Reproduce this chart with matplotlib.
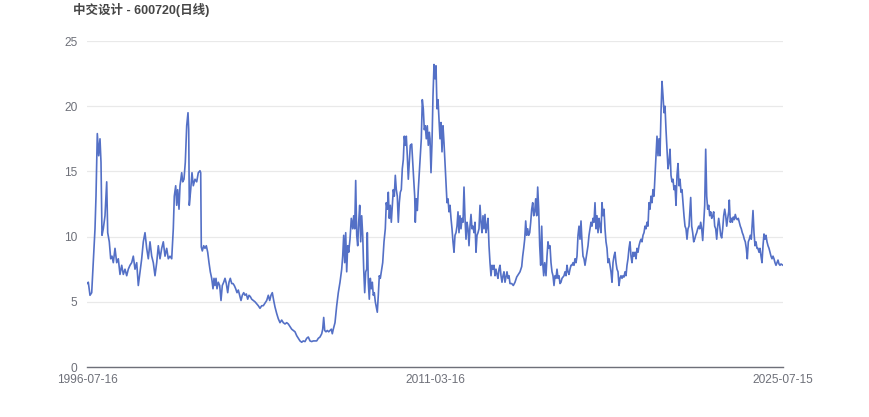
import matplotlib
matplotlib.use("Agg")
import matplotlib.pyplot as plt

title = "中交设计 - 600720(日线)"
tick_labels = ["1996-07-16", "2011-03-16", "2025-07-15"]
tick_days = [0, 3480, 6960]
y_ticks = [0, 5, 10, 15, 20, 25]

# trading-day index and closing price
days_1996 = [0,13,30,47,63,80,90,103,117,130,140,150,163,180,197,207,223,237,250,263,
             280,297,313,330,347,363,380,397,413,430,447,463,480,497,513,530,547,563,580,597,
             613,630,647,663,680,697,713,730,747,763,780,797,813,830,847,863,873,887,897,907,
             920,930,947,957,970,983,997,1010,1017,1023,1037,1050,1063,1080,1097,1113]
price_1996 = [6.4,6.5,5.5,5.7,8.0,10.6,13.1,17.9,16.2,17.5,15.7,10.1,10.6,11.6,14.2,10.3,9.6,8.3,8.5,8.0,
              9.1,8.0,8.3,7.1,7.8,7.1,7.5,7.0,7.5,7.8,8.0,8.5,7.5,8.0,6.25,7.3,8.3,9.6,10.3,9.1,
              8.3,9.6,8.5,8.0,7.0,8.0,9.3,8.3,9.1,9.6,8.5,9.1,8.3,8.5,8.3,10.6,13.1,13.9,12.4,13.6,
              12.1,13.9,14.9,14.2,14.4,15.7,18.5,19.5,18.2,12.4,13.6,14.9,13.9,14.4,14.2,14.9]

days_2001 = [1130,1137,1143,1153,1167,1180,1193,1207,1220,1233,1247,1260,1270,1280,1290,1300,1313,1327,1340,1353,
             1367,1380,1393,1407,1420,1433,1447,1460,1473,1487,1500,1513,1527,1540,1553,1567,1580,1593,1607,1620,
             1633,1647,1663,1680,1697,1713,1730,1747,1763,1780,1797,1813,1827,1840,1853,1867,1880,1897,1913,1930,
             1947,1963,1980,1997,2013,2030,2047,2063,2080,2097,2113,2130,2147,2163,2180,2197,2213,2230,2247,2263]
price_2001 = [15.05,14.9,9.2,8.9,9.3,9.1,9.3,8.8,8.0,7.3,6.8,6.0,6.8,6.25,6.8,6.0,6.5,6.25,5.1,6.25,
              6.5,6.8,6.4,5.7,6.5,6.8,6.4,6.4,6.25,6.0,5.7,5.9,5.5,5.1,5.5,5.7,5.5,5.6,5.2,5.5,
              5.4,5.2,5.1,5.0,4.85,4.7,4.5,4.7,4.7,4.9,5.1,5.5,5.1,5.5,5.7,5.1,4.6,4.1,3.7,3.4,
              3.6,3.4,3.3,3.4,3.3,3.1,2.9,2.8,2.7,2.4,2.2,2.0,1.9,2.0,1.95,2.2,2.3,2.0,1.95,2.0]

days_2006 = [2280,2297,2313,2330,2347,2357,2367,2377,2390,2403,2417,2430,2443,2453,2463,2480,2497,2513,2530,2547,
             2557,2567,2577,2587,2597,2607,2617,2630,2643,2657,2667,2677,2687,2697,2707,2717,2727,2737,2747,2757,
             2767,2777,2787,2797,2803,2813,2823,2833,2843,2853,2863,2873,2883,2893,2903,2913,2923,2933,2943,2957,
             2970,2983,2993,3003,3013,3023,3033,3043,3053,3063,3073,3083,3093,3103,3113,3123,3133,3143,3153,3163,
             3173,3183,3193,3203,3213,3223,3233,3247,3257,3267,3277,3283,3293,3303,3313,3323,3333,3343,3353,3363,
             3373,3383,3393,3403,3413,3423]
price_2006 = [2.0,2.0,2.2,2.3,2.55,2.9,3.8,2.8,2.7,2.8,2.7,2.8,2.9,2.55,2.9,3.4,4.7,5.7,6.5,7.5,
              8.5,10.1,8.0,10.3,7.3,9.3,8.8,9.8,11.4,10.6,11.6,10.6,14.3,10.1,9.3,11.1,12.4,9.6,11.6,10.1,
              7.5,5.7,7.3,7.5,10.3,6.5,5.2,6.8,6.0,6.5,5.5,5.7,5.0,4.6,4.2,5.5,7.0,6.8,7.3,8.0,
              9.6,10.6,12.6,12.1,13.4,11.4,12.4,11.1,12.4,13.6,13.1,14.7,13.6,13.1,11.1,12.6,13.4,13.6,15.2,15.9,
              17.7,17.0,17.7,16.2,14.4,15.7,17.0,17.1,15.7,14.4,13.1,11.1,12.9,12.0,13.6,14.9,16.2,17.5,20.5,19.8,
              18.2,18.5,17.5,18.5,17.0,18.0]

days_2011 = [3430,3440,3450,3460,3470,3480,3490,3500,3510,3520,3530,3540,3550,3560,3570,3580,3590,3600,3610,3620,
             3630,3640,3650,3660,3670,3680,3690,3700,3710,3720,3730,3740,3750,3760,3770,3780,3790,3800,3810,3820,
             3830,3840,3850,3860,3870,3880,3890,3900,3910,3920,3930,3940,3950,3960,3970,3980,3990,4000,4010,4020,
             4030,4040,4050,4060,4070,4080,4090,4100,4110,4120,4130,4140,4150,4160,4170,4180,4190,4200,4210,4220,
             4230,4247,4263,4280,4297,4313,4330,4347,4357,4367,4377,4387,4397,4407,4417,4427,4437,4447,4457,4467,
             4477,4487,4497,4507,4517,4527,4537,4547,4557,4567,4577]
price_2011 = [17.5,14.9,17.2,20.8,23.2,22.1,23.1,19.8,20.5,19.0,17.5,18.75,16.5,18.5,17.2,15.7,14.2,12.6,12.9,11.9,
              12.4,11.4,10.6,9.6,8.8,10.1,10.3,10.8,11.9,10.3,11.6,10.6,11.4,11.1,13.8,11.4,9.8,11.1,10.6,9.3,
              10.8,11.7,10.6,10.8,10.3,11.1,8.8,10.1,10.3,10.6,12.4,11.1,10.3,11.6,10.6,11.7,10.3,10.8,11.4,9.3,
              8.0,7.0,7.8,7.5,7.8,7.0,7.5,7.1,6.8,7.5,7.8,7.0,6.5,7.0,7.3,6.5,6.9,7.3,6.8,7.0,
              6.4,6.4,6.25,6.5,6.9,7.1,7.3,7.7,8.5,9.1,9.8,11.2,10.1,10.6,10.1,10.3,11.1,12.1,12.6,11.6,
              11.9,12.9,11.6,13.8,12.1,9.3,7.8,10.8,8.0,7.0,8.0]

days_2016 = [4590,4600,4610,4620,4630,4640,4650,4660,4670,4680,4690,4700,4710,4720,4730,4740,4750,4760,4770,4780,
             4790,4800,4810,4820,4830,4840,4850,4860,4870,4880,4890,4900,4910,4920,4930,4940,4950,4960,4970,4980,
             4990,5000,5010,5020,5030,5040,5050,5060,5070,5080,5090,5100,5110,5120,5130,5140,5150,5160,5170,5180,
             5190,5200,5210,5220,5230,5240,5250,5260,5270,5280,5290,5300,5310,5320,5330,5340,5350,5360,5370,5380,
             5390,5400,5410,5420,5430,5440,5450,5460,5470,5480,5490,5500,5510,5520,5530,5540,5550,5560,5570,5580,
             5590,5600,5610,5620,5630,5640,5650,5660,5670,5680,5690,5700,5710,5720]
price_2016 = [7.0,8.5,9.6,9.1,9.3,8.0,7.3,7.0,6.25,7.0,6.8,7.5,6.8,7.0,6.4,6.5,6.8,6.9,7.0,7.3,
              7.0,7.8,7.3,7.1,7.5,7.8,7.8,8.0,7.8,8.3,8.0,8.5,10.1,10.8,9.8,11.2,9.6,8.5,8.3,7.8,
              8.3,8.8,9.3,10.1,10.6,11.1,10.8,11.4,11.1,12.6,10.6,11.6,10.3,11.4,10.8,10.3,12.6,11.6,12.1,10.6,
              9.6,9.1,8.0,8.3,7.8,7.3,6.5,8.0,8.5,8.8,8.0,7.5,7.3,6.25,6.8,7.0,6.8,7.0,6.9,7.3,
              7.0,7.8,8.3,9.1,9.6,8.5,8.0,8.8,8.5,8.8,8.3,9.1,8.8,9.3,9.6,9.8,9.6,10.1,10.3,10.8,
              10.6,11.1,10.8,12.6,12.1,13.1,12.6,13.6,13.1,14.7,16.2,17.7,16.2,17.5]

days_2020 = [5730,5740,5750,5760,5770,5780,5790,5800,5810,5820,5830,5840,5850,5860,5870,5880,5890,5900,5910,5920,
             5930,5940,5950,5960,5970,5980,5990,6000,6010,6020,6030,6037,6047,6057,6067,6077,6087,6097,6107,6117,
             6127,6137,6147,6157,6167,6177,6187,6197,6207,6217,6227,6237,6247,6257,6267,6277,6287,6297,6307,6317,
             6327,6337,6347,6357,6367,6377,6387,6397,6407,6417,6423,6433,6443,6453,6463,6473,6483,6493,6503,6513,
             6523,6533,6543,6553,6563,6573,6583,6593,6603,6613,6623,6633,6643,6653,6660,6670,6680,6690,6700,6710,
             6720,6730,6740,6750,6760,6770,6780,6790,6800,6810,6820,6830,6840,6850,6860,6870,6880,6890,6900,6910,
             6920,6930,6940,6960]
price_2020 = [16.2,19.5,21.9,20.8,19.5,20.0,18.2,16.7,15.2,15.7,16.7,14.7,14.2,14.4,13.6,13.9,12.4,14.7,15.6,13.9,
              14.4,13.4,13.6,12.6,11.6,10.8,10.6,9.8,10.6,10.8,12.1,13.0,10.8,10.3,9.6,9.8,10.1,10.3,10.6,10.8,
              10.6,11.1,10.6,9.7,11.1,12.4,16.7,13.1,12.1,12.4,11.6,11.9,11.4,11.6,11.9,10.8,10.6,9.8,10.8,11.4,
              10.8,10.1,9.9,10.6,11.6,12.1,11.6,10.8,11.4,11.9,12.8,11.1,11.4,11.1,11.5,11.3,11.7,11.4,11.3,11.4,
              11.1,10.8,10.6,10.3,10.1,9.8,9.6,9.1,8.3,9.6,9.8,10.1,9.8,11.1,12.0,10.3,9.3,9.6,9.1,9.1,
              8.8,9.1,8.5,8.0,9.3,10.2,9.8,10.1,9.6,9.3,9.1,8.8,8.5,8.3,8.5,8.3,8.0,7.8,8.0,8.2,
              7.9,7.8,7.9,7.8]

days = days_1996 + days_2001 + days_2006 + days_2011 + days_2016 + days_2020
prices = price_1996 + price_2001 + price_2006 + price_2011 + price_2016 + price_2020

plt.rcParams['font.family'] = ['Liberation Sans', 'Noto Sans CJK SC', 'DejaVu Sans']

fig = plt.figure(figsize=(8.7, 4.17), dpi=100)
ax = fig.add_axes([87/870, 1 - 367/417, 696/870, 326/417])

ax.plot(days, prices, color='#5470c6', lw=1.2, solid_joinstyle='round')

ax.set_xlim(tick_days[0], tick_days[-1])
ax.set_ylim(0, 25)
ax.set_yticks(y_ticks)
ax.set_yticklabels([str(v) for v in y_ticks])
ax.set_xticks(tick_days)
ax.set_xticklabels(tick_labels)
ax.grid(axis='y', color='#e9e9e9', lw=0.9)
ax.set_axisbelow(True)
for s in ['top', 'right', 'left']:
    ax.spines[s].set_visible(False)
ax.spines['bottom'].set_color('#6e7079')
ax.spines['bottom'].set_linewidth(1)
ax.tick_params(axis='both', length=0, colors='#6e7079', labelsize=8.6)
ax.tick_params(axis='y', pad=7)
ax.tick_params(axis='x', pad=5)

fig.text(73/870, 1 - 10/417, title, fontsize=9, fontweight='bold', color='#464646',
         ha='left', va='center')

fig.savefig('out.png', dpi=100, facecolor='white')
